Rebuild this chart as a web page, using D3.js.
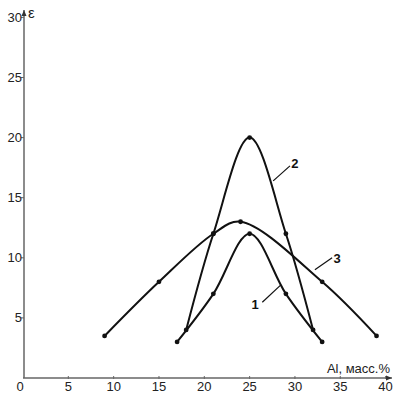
<!DOCTYPE html>
<html><head><meta charset="utf-8">
<script src="https://cdn.jsdelivr.net/npm/d3@7"></script>
<style>body{margin:0;background:#fff}svg{display:block}text{font-family:"Liberation Sans",Arial,sans-serif}</style>
</head><body><svg id="c" width="402" height="402"></svg>
<script>
const xTicks = [5,10,15,20,25,30,35,40];
const yTicks = [5,10,15,20,25,30];
const curve1 = [[17,3],[21,7],[25,12],[29,7],[33,3]];
const curve2 = [[18,4],[21,12],[25,20],[29,12],[32,4]];
const curve3 = [[9,3.5],[15,8],[21,12],[24,13],[33,8],[39,3.5]];
const curveNames = ["1","2","3"];
const labelPos = [[25.6,5.75],[30.0,17.45],[34.65,9.6]];
const leaderEnds = [[[26.4,6.3],[28.45,7.75]],[[29.45,17.65],[27.6,16.4]],[[34.1,10.0],[32.2,9.0]]];

const svg = d3.select("#c");
const x = d3.scaleLinear().domain([0,40]).range([23,385.6]);
const y = d3.scaleLinear().domain([0,30]).range([378,17.4]);
const axisCol = "#666";

svg.append("line").attr("x1",x(0)).attr("x2",392).attr("y1",y(0)).attr("y2",y(0)).attr("stroke",axisCol).attr("stroke-width",1.5);
svg.append("line").attr("x1",x(0)+1).attr("x2",x(0)+1).attr("y1",y(0)).attr("y2",10).attr("stroke",axisCol).attr("stroke-width",1.5);
svg.append("path").attr("d",`M392,${y(0)} l-6,-2.5 l0,5 z`).attr("fill","#333");
svg.append("path").attr("d",`M${x(0)+1},10 l-2.5,6 l5,0 z`).attr("fill","#333");

const gx = svg.append("g");
xTicks.forEach(t=>{
  gx.append("line").attr("x1",x(t)).attr("x2",x(t)).attr("y1",y(0)-2).attr("y2",y(0)+1).attr("stroke",axisCol);
  gx.append("text").attr("x",x(t)).attr("y",391).attr("text-anchor","middle").attr("font-size",13).attr("fill","#222").text(t);
});
svg.append("text").attr("x",20).attr("y",391).attr("text-anchor","middle").attr("font-size",13).attr("fill","#222").text("0");
yTicks.forEach(t=>{
  svg.append("line").attr("x1",x(0)-2).attr("x2",x(0)+1).attr("y1",y(t)).attr("y2",y(t)).attr("stroke",axisCol);
  svg.append("text").attr("x",x(0)-1).attr("y",y(t)+4.5).attr("text-anchor","end").attr("font-size",13).attr("fill","#222").text(t);
});
svg.append("text").attr("x",28).attr("y",18).attr("font-size",15).attr("fill","#222").text("ε");
svg.append("text").attr("x",390).attr("y",373).attr("text-anchor","end").attr("font-size",13).attr("fill","#222").text("Al, масс.%");

const line = d3.line().x(d=>x(d[0])).y(d=>y(d[1])).curve(d3.curveCatmullRom.alpha(0.5));
[curve1,curve2,curve3].forEach((c,i)=>{
  svg.append("path").attr("d",line(c)).attr("fill","none").attr("stroke","#111").attr("stroke-width",2);
  svg.selectAll(null).data(c).enter().append("circle").attr("cx",d=>x(d[0])).attr("cy",d=>y(d[1])).attr("r",2.4).attr("fill","#111");
  const le = leaderEnds[i];
  svg.append("line").attr("x1",x(le[0][0])).attr("y1",y(le[0][1])).attr("x2",x(le[1][0])).attr("y2",y(le[1][1])).attr("stroke","#111").attr("stroke-width",1.2);
  svg.append("text").attr("x",x(labelPos[i][0])).attr("y",y(labelPos[i][1])).attr("text-anchor","middle").attr("font-size",13).attr("font-weight","bold").attr("fill","#111").text(curveNames[i]);
});
</script></body></html>
